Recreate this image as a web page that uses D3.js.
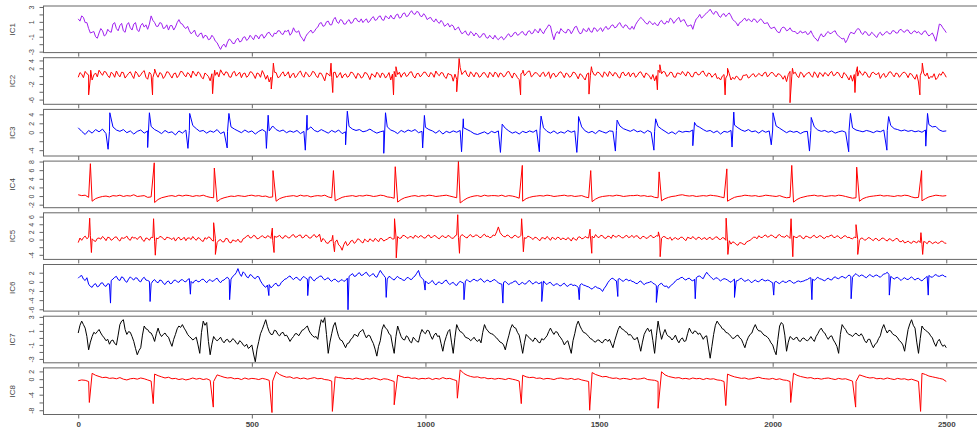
<!DOCTYPE html>
<html>
<head>
<meta charset="utf-8">
<script src="https://cdn.jsdelivr.net/npm/d3@7"></script>
<style>
body { margin: 0; background: #fff; }
text { font-family: "Liberation Sans", Arial, sans-serif; }
</style>
</head>
<body>
<svg id="chart" width="977" height="430"></svg>
<script>
// one value every 10 samples (0..2500)
var ic1 = [1.4,1.8,0.9,0.1,-0.4,-1.0,-0.5,-0.2,-0.7,-0.3,
0.7,0.1,0.5,-0.2,0.6,0.2,0.7,-0.1,0.5,0.3,
0.0,1.8,0.9,0.4,0.8,0.2,-0.1,0.5,0.3,1.3,
0.7,0.1,-0.2,-0.4,-0.8,-0.6,-1.2,-0.9,-1.3,-1.1,
-1.8,-2.7,-2.0,-1.7,-1.5,-1.9,-1.2,-1.6,-1.0,-1.3,
-1.1,-0.8,-1.3,-0.7,-0.9,-0.4,-1.0,-0.6,-0.2,-0.7,
-0.3,-0.8,0.2,-0.4,-0.9,-1.6,-0.6,-0.1,-0.3,0.3,
0.9,0.5,1.1,0.6,1.6,0.8,1.2,0.7,1.3,0.9,
1.5,1.0,0.9,1.4,1.1,1.7,1.3,1.8,1.2,1.6,
1.9,1.4,2.05,1.6,2.2,1.8,2.5,2.0,2.3,1.7,
1.8,1.5,1.2,1.4,0.8,0.9,0.6,0.3,0.45,0.1,
-0.2,-0.45,-0.7,-0.3,-0.9,-0.7,-1.0,-0.6,-1.2,-1.1,
-0.8,-1.4,-1.0,-1.2,-0.6,-0.9,-0.4,-0.7,-0.3,-0.8,
-0.2,-0.5,-0.2,0.1,-0.6,0.2,0.45,-1.4,-0.3,0.1,
-0.4,0.0,-0.6,0.3,-0.2,-0.5,-0.2,0.2,-0.4,0.1,
0.0,-0.3,0.4,0.1,0.6,0.3,0.9,0.2,0.5,0.0,
0.0,1.0,1.6,1.1,0.7,0.9,0.9,0.5,1.2,0.7,
0.9,1.3,1.1,1.6,1.2,0.8,0.5,0.0,1.4,2.0,
1.7,2.2,2.7,2.0,2.3,1.6,2.1,2.0,1.8,1.1,
0.45,1.0,1.5,1.4,1.0,1.3,1.1,1.2,0.8,0.45,
0.2,-0.1,-0.45,0.3,-0.2,0.2,-0.3,-0.6,-0.2,-0.4,
-0.7,-0.2,-1.1,-1.6,-0.6,-0.9,-0.3,-0.5,-0.2,-0.9,
-1.3,-1.8,-0.8,-0.5,-0.2,0.0,-0.7,-0.4,-0.8,-0.6,
-1.1,-0.4,-0.7,-0.3,-0.6,-0.2,-0.5,0.0,-0.4,-0.1,
-0.6,-0.2,-0.3,-0.7,-0.2,-0.9,-0.5,-1.6,0.7,0.2,
-0.45];

var ic2 = [-0.3,0.5,1.2,0.3,-1.0,0.8,1.5,0.2,1.0,-0.4,
0.6,1.3,-0.2,0.9,0.1,1.1,-0.6,0.7,0.3,1.4,
-0.8,0.4,1.2,-0.3,0.6,0.0,1.0,-0.5,0.8,0.2,
1.1,-0.2,0.5,1.3,0.0,0.7,-0.7,0.4,-1.2,-0.5,
1.0,1.6,0.2,0.9,-0.3,1.2,0.5,-0.4,0.8,0.1,
1.0,-0.6,0.6,1.4,-0.8,-1.5,0.3,0.9,-0.2,1.1,
0.4,-0.5,0.8,0.1,1.3,-0.3,0.6,0.2,1.0,-0.4,
0.7,-1.2,0.5,-0.3,1.0,0.2,-0.5,0.6,0.0,0.9,
-0.6,0.4,-0.2,0.8,-0.9,0.3,1.0,-0.4,0.5,0.1,
-1.0,1.2,0.4,-0.3,0.9,0.2,1.1,-0.5,0.7,0.3,
1.0,-0.2,0.6,1.3,0.1,0.8,-0.6,0.4,-1.3,-0.8,
2.2,1.0,0.3,1.1,-0.2,0.7,0.0,0.9,-0.4,0.5,
1.0,-0.3,0.6,0.1,1.2,-0.5,0.4,-0.9,0.9,0.6,
1.3,0.2,0.8,-0.2,1.0,0.4,-0.6,0.7,0.1,1.1,
-0.4,0.5,0.0,0.9,-0.7,0.3,-1.0,0.8,1.4,0.2,
0.9,-0.3,0.6,1.2,0.0,0.7,-0.5,1.0,0.3,-0.2,
0.8,0.1,1.1,-0.4,0.5,-0.8,-1.2,1.5,0.6,1.0,
0.2,0.9,-0.3,0.7,1.2,0.0,0.8,-0.2,1.0,0.4,
1.3,-0.1,0.6,0.2,-0.6,-1.0,0.4,0.3,-1.0,-0.8,
-0.3,-0.9,0.2,-0.5,0.4,-0.2,0.7,0.0,1.0,0.3,
0.9,-0.2,0.5,-0.8,-1.4,1.2,0.6,0.1,1.0,-0.3,
0.7,0.2,1.1,-0.4,0.6,0.9,0.0,1.2,0.3,0.8,
-0.5,0.5,-1.0,-1.3,0.9,1.4,0.2,0.8,-0.3,1.0,
0.4,-0.6,0.7,0.1,1.1,-0.2,0.6,0.3,1.0,-0.4,
0.5,-0.8,-1.5,1.3,0.0,-0.7,-0.3,-0.9,0.6,1.1,
-0.3];

var ic3 = [1.0,0.2,-0.5,0.4,-0.2,0.6,0.1,0.7,-0.3,0.2,
1.2,0.5,0.2,0.6,-0.1,0.3,-0.4,0.2,0.5,-0.2,
0.3,1.3,0.6,0.2,-0.3,0.4,-0.1,0.1,-0.6,0.3,
-0.2,0.5,0.4,1.5,0.8,0.2,0.4,-0.2,0.3,0.0,
0.6,-0.3,0.1,0.2,1.2,0.7,0.3,-0.1,0.5,0.0,
0.3,-0.4,0.2,0.6,0.1,0.3,1.4,0.6,0.2,0.5,
-0.1,0.3,0.0,0.4,-0.3,0.2,0.5,1.2,0.4,0.1,
0.6,0.2,-0.2,0.4,0.0,0.5,-0.3,0.1,1.3,0.7,
0.4,0.6,0.1,0.3,0.7,0.2,-0.2,0.1,0.3,1.2,
0.5,0.2,-0.3,0.4,0.0,0.5,0.2,0.6,-0.1,0.2,
1.1,0.6,0.3,-0.2,0.4,-0.4,0.2,-0.1,0.3,0.0,
0.4,1.0,0.6,0.2,-0.3,-0.5,-0.2,0.1,-0.4,0.2,
-0.1,0.3,0.5,0.9,0.3,-0.2,0.1,-0.4,0.2,-0.1,
0.3,0.0,0.5,0.4,1.0,0.2,-0.2,0.3,-0.3,0.1,
-0.2,0.4,0.0,0.3,0.5,1.2,0.3,-0.1,0.2,-0.3,
0.4,0.1,-0.2,0.3,0.2,0.4,1.4,0.8,0.5,0.2,
0.6,0.1,0.3,-0.2,0.4,0.0,0.2,1.3,0.7,0.2,
-0.3,0.1,-0.4,0.3,0.0,0.2,0.1,0.5,1.5,1.1,
0.6,0.2,0.4,-0.1,0.3,-0.4,0.2,0.0,0.4,1.6,
1.0,0.5,0.2,0.6,0.1,0.3,-0.2,0.4,0.0,0.3,
0.5,1.4,0.9,0.4,-0.1,0.3,0.0,0.2,-0.3,0.1,
0.2,0.4,1.2,0.5,0.2,0.4,0.0,0.3,-0.2,0.1,
0.3,0.0,0.4,1.0,0.5,0.3,0.1,0.4,0.2,-0.1,
0.3,0.1,0.5,0.4,1.5,0.8,0.6,0.3,0.5,0.2,
0.4,0.1,0.3,0.0,0.5,1.7,1.2,1.3,0.5,0.2,
0.3];

var ic4 = [0.3,0.1,0.2,-0.3,-1.2,-0.6,-0.3,-0.1,0.0,-0.2,
0.1,0.0,0.2,-0.1,0.1,0.0,0.3,-0.1,0.0,0.1,
-0.3,-0.2,-1.5,-0.8,-0.4,-0.2,0.0,0.1,-0.1,0.2,
0.0,0.2,0.1,-0.1,0.1,0.0,0.2,-0.1,-0.3,-0.4,
-1.3,-0.7,-0.4,-0.2,0.0,-0.1,0.1,0.0,-0.1,0.1,
0.2,0.0,0.1,-0.1,0.0,-0.3,-0.2,-1.2,-0.6,-0.3,
-0.1,0.0,0.1,-0.1,0.2,0.0,0.1,-0.2,0.0,0.1,
0.0,0.2,-0.2,-0.4,-1.1,-0.7,-0.3,-0.1,0.0,0.1,
-0.1,0.1,0.0,0.2,0.1,-0.1,0.0,0.2,0.1,-0.2,
-0.3,-0.5,-1.4,-0.8,-0.4,-0.2,0.0,0.1,-0.1,0.1,
0.0,0.2,0.1,-0.1,0.0,0.1,0.2,0.0,-0.2,-0.4,
-1.6,-1.0,-0.5,-0.2,0.0,0.1,-0.1,0.2,0.0,0.1,
0.1,0.0,0.2,-0.1,0.1,0.0,-0.2,-0.5,-1.2,-0.6,
-0.3,-0.1,0.0,0.1,0.0,0.2,0.1,-0.1,0.0,0.1,
0.2,0.0,0.1,-0.1,0.0,0.1,-0.2,-0.4,-1.3,-0.7,
-0.3,-0.1,0.0,0.1,0.0,0.2,0.1,-0.1,0.0,0.1,
0.1,0.2,0.0,0.1,-0.1,0.0,-0.3,-0.4,-1.1,-0.6,
-0.3,-0.1,0.0,0.2,0.3,0.1,0.0,0.1,-0.1,0.0,
0.1,0.0,0.2,0.1,0.0,-0.2,-0.4,-1.2,-0.7,-0.3,
-0.1,0.0,0.2,0.1,0.0,0.1,-0.1,0.0,0.2,0.1,
0.0,-0.1,0.1,-0.2,-0.4,-0.3,-1.4,-0.8,-0.4,-0.2,
0.0,0.1,0.2,0.0,0.1,-0.1,0.0,0.1,0.0,0.2,
0.1,-0.1,-0.3,-0.5,-0.4,-1.2,-0.6,-0.3,-0.1,0.0,
0.1,0.2,0.0,0.1,0.0,-0.1,0.1,0.0,0.2,0.1,
-0.2,-0.4,-0.3,-1.1,-0.6,-0.2,0.0,0.2,0.1,0.0,
0.1];

var ic5 = [-0.8,-0.2,0.9,0.6,0.2,-0.5,0.4,0.8,-0.3,0.5,
0.1,0.7,-0.4,0.3,0.9,-0.2,0.4,0.0,0.8,-0.5,
0.3,0.6,-0.6,0.2,0.7,-0.1,0.5,0.0,-0.4,0.6,
0.1,-0.3,0.4,0.8,-0.2,0.3,-0.5,0.1,0.5,-0.4,
-0.8,0.0,-0.6,0.2,-0.9,-0.3,0.1,-0.7,0.4,1.1,
0.5,0.9,0.3,1.0,0.4,0.8,-0.2,0.6,1.1,0.3,
0.9,0.5,1.3,0.7,1.2,0.6,1.0,0.4,1.3,0.8,
-0.6,-0.2,-1.0,-0.3,-0.7,-1.4,-2.8,-0.5,-1.2,-0.2,
-0.6,0.0,-0.9,-0.3,0.2,-0.5,-0.1,0.3,-0.4,0.1,
0.6,0.2,0.8,0.4,1.0,0.3,0.7,1.1,0.5,0.9,
0.4,1.2,0.6,0.9,0.2,1.0,0.5,0.8,0.3,1.2,
0.7,1.0,0.4,1.3,0.8,1.1,0.5,1.4,0.9,0.6,
1.0,3.3,1.2,0.7,1.0,0.4,1.1,0.6,0.9,0.3,
0.7,0.0,0.5,-0.3,0.4,0.8,-0.2,0.3,0.6,-0.1,
0.2,0.5,-0.4,0.1,0.6,0.2,0.8,0.4,0.9,1.3,
0.5,1.0,0.3,0.8,1.2,0.6,0.9,0.4,1.1,0.7,
0.5,1.0,0.2,0.8,0.4,1.1,0.6,0.9,0.3,0.7,
0.2,-0.2,0.5,0.1,0.6,-0.3,0.4,0.8,0.0,0.5,
0.3,-0.1,0.6,0.2,0.7,0.0,0.4,-0.6,-1.2,-0.8,
-1.5,-0.9,-1.3,-0.4,0.2,0.6,1.0,0.5,1.2,0.8,
1.0,0.4,1.3,0.7,1.1,0.3,0.9,0.5,1.0,0.2,
0.8,0.4,1.1,0.6,0.9,0.3,0.7,1.2,0.5,0.8,
0.4,1.0,0.6,0.2,0.5,-0.2,0.3,0.0,0.4,-0.3,
0.2,-0.1,0.3,-0.4,0.1,-0.2,0.2,-0.6,-0.9,-0.4,
-1.0,-0.6,-0.3,-1.3,-0.7,-0.4,-1.1,-0.6,-0.9,-0.5,
-1.0];

var ic6 = [0.8,1.4,0.3,-0.5,-1.2,-0.4,-0.9,-0.2,-1.0,-0.5,
0.6,1.2,0.3,0.9,-0.1,1.1,0.4,0.8,0.0,1.0,
0.3,-0.4,0.5,-0.2,0.3,-0.6,0.2,-0.3,0.4,-0.1,
0.5,0.0,0.7,-0.3,0.4,0.1,0.6,-0.2,0.5,0.2,
0.8,-0.2,0.4,1.0,0.6,1.5,2.9,1.2,1.8,0.9,
1.4,0.7,1.1,-0.4,-1.2,-0.6,-1.0,-0.3,-0.8,0.2,
0.7,1.3,0.5,1.0,0.3,1.2,0.6,1.1,0.2,0.9,
1.3,0.4,0.9,0.1,0.6,0.0,0.5,0.3,1.2,1.8,
1.3,2.0,1.5,2.1,1.2,1.8,1.0,2.5,1.4,0.6,
1.0,0.4,1.2,0.7,0.3,1.0,0.5,1.3,2.5,0.8,
0.2,-0.4,0.3,-0.7,0.0,-0.3,0.4,-0.6,-0.1,-0.8,
0.1,-0.3,0.5,0.0,0.6,0.2,0.7,-0.1,0.4,0.1,
0.5,-0.2,-0.5,0.1,-0.6,-0.2,0.2,-0.7,-0.1,-0.4,
0.3,-0.5,0.0,-0.3,0.2,-0.6,-0.1,-0.8,-0.4,-0.9,
-0.3,-1.0,-0.5,-0.7,-1.2,-0.4,-0.8,-1.1,-1.6,-1.0,
-1.4,-2.1,-0.9,0.3,0.8,0.2,0.7,0.1,0.6,0.4,
0.0,-0.4,0.2,-0.6,-0.2,0.1,-0.5,-0.9,-0.3,-1.0,
-1.4,-0.6,0.2,0.6,1.0,0.4,0.8,0.2,0.9,1.3,
0.7,2.1,1.2,0.5,0.9,0.2,0.7,0.4,-0.1,0.6,
0.3,0.8,0.1,0.5,-0.2,0.4,0.0,0.6,0.2,0.3,
-0.2,0.1,-0.4,0.2,-0.1,0.3,-0.3,0.1,0.0,0.2,
0.5,0.9,0.3,1.0,0.6,0.2,0.8,0.4,1.1,0.7,
1.2,0.8,1.5,1.0,1.8,1.2,1.4,0.9,1.6,1.1,
1.5,1.0,1.7,2.1,1.2,0.6,1.0,0.3,0.9,0.5,
1.1,0.4,0.8,0.2,0.9,1.4,1.0,1.6,1.2,1.5,
1.1];

var ic7 = [0.7,2.4,1.4,-1.7,0.2,0.6,1.2,0.3,-0.4,-0.9,
-0.3,-1.0,1.9,2.6,0.5,0.8,-0.5,-2.4,-1.4,1.7,
1.2,0.7,-0.5,1.4,0.2,0.7,0.1,-1.2,0.5,1.7,
1.9,1.0,0.2,-0.3,0.1,-2.2,2.4,2.2,-2.4,0.2,
-0.4,0.1,-0.7,-0.2,-0.5,-0.3,-0.9,-0.6,-1.2,-1.5,
-1.0,-3.4,-0.5,1.2,2.6,0.9,0.5,1.0,0.3,0.8,
0.4,-0.5,0.2,0.6,0.7,1.2,1.7,0.6,0.1,-0.2,
2.6,2.9,-2.2,0.6,2.2,0.2,-0.4,-1.4,-0.7,0.0,
0.4,0.8,1.2,0.0,0.3,-0.8,-2.6,-0.4,1.9,1.2,
0.4,-2.2,1.7,0.2,-0.3,0.1,-0.7,-0.2,-0.6,1.2,
0.6,1.0,-0.2,0.7,0.3,-1.9,0.2,1.2,-2.2,1.9,
0.9,0.5,0.0,-0.4,0.1,-0.5,-0.7,1.9,1.0,0.6,
0.2,-0.3,-0.7,-1.7,0.3,1.9,1.4,0.4,-2.2,0.5,
0.0,-0.5,-0.2,-0.7,-0.3,0.3,1.4,0.5,0.8,0.0,
-1.0,-0.4,-2.2,0.6,2.4,1.2,0.7,0.2,-0.2,-0.6,
-0.3,-0.7,-0.2,-0.2,-1.4,0.4,1.7,1.2,0.8,0.5,
-0.2,0.1,-1.9,0.5,1.4,1.2,-2.2,2.4,-0.2,1.2,
0.2,-0.3,0.4,-0.7,0.0,-0.4,1.4,0.6,0.9,0.7,
-0.2,0.3,-2.9,0.5,2.4,1.7,1.2,0.7,0.2,0.0,
0.4,-0.2,-1.4,0.1,0.7,1.9,1.0,0.7,0.3,-0.2,
-1.0,-2.4,1.7,1.9,-1.9,0.2,-0.3,0.1,-0.5,0.0,
-0.4,0.2,-0.5,0.6,1.4,0.7,-0.2,0.3,-0.7,-2.2,
1.9,1.2,0.5,0.2,0.7,0.3,0.2,-0.7,-0.2,-1.4,
-0.7,0.3,1.9,0.7,1.0,0.4,0.0,-0.6,-1.9,1.2,
2.6,1.4,-2.2,1.7,1.1,0.7,0.0,-1.2,-0.2,-1.2,
-1.4];

var ic8 = [-0.4,-0.2,-0.3,-0.6,1.5,1.0,0.7,0.4,0.5,0.2,
0.3,0.1,0.4,0.0,-0.2,0.1,0.2,0.0,0.3,0.1,
-0.2,-0.5,1.3,0.9,0.6,0.3,0.5,0.1,0.2,-0.1,
0.1,-0.2,0.0,0.3,0.0,0.2,-0.1,0.1,-0.3,-0.6,
1.1,0.8,0.5,0.3,0.4,0.1,0.2,-0.1,0.3,0.0,
0.2,0.1,-0.1,0.2,0.0,-0.3,-0.5,1.9,1.2,0.8,
0.5,0.6,0.2,0.4,0.1,0.3,0.0,0.2,0.4,0.1,
0.2,-0.1,-0.2,-0.5,0.6,0.4,0.3,0.1,0.2,0.0,
0.3,0.1,-0.1,0.2,0.0,0.3,0.1,-0.2,0.1,0.0,
-0.3,-0.6,1.0,0.7,0.4,0.5,0.2,0.3,0.0,0.2,
0.1,0.3,-0.1,0.2,0.0,0.4,0.1,0.2,-0.1,-0.4,
2.4,1.5,1.0,0.7,0.5,0.6,0.3,0.4,0.1,0.2,
0.0,0.2,0.1,-0.1,0.2,0.0,-0.2,-0.5,1.0,0.6,
0.4,0.5,0.2,0.3,0.0,0.2,0.1,-0.1,0.2,0.3,
0.1,0.0,0.2,-0.1,0.1,-0.2,-0.4,-0.6,1.7,1.2,
0.9,0.6,0.7,0.4,0.2,0.3,0.0,0.2,0.1,-0.1,
0.2,0.0,0.1,0.3,-0.1,-0.2,-0.3,-0.6,1.9,1.1,
0.7,0.5,0.3,0.4,0.1,0.2,0.0,0.3,0.1,0.2,
-0.1,0.2,0.0,0.1,-0.2,-0.3,-0.6,1.3,0.9,0.6,
0.4,0.2,0.3,0.0,0.1,0.3,0.5,0.2,0.1,0.0,
0.2,-0.1,0.1,-0.2,-0.3,-0.6,1.5,1.0,0.7,0.5,
0.3,0.4,0.1,0.2,0.0,0.2,0.3,0.1,-0.1,0.2,
0.0,0.1,-0.2,-0.5,-0.6,1.1,0.8,0.5,0.3,0.4,
0.1,0.2,0.0,0.3,0.1,-0.1,0.2,0.0,0.1,-0.2,
0.0,-0.3,-0.6,1.5,1.2,0.8,0.6,0.4,0.2,0.0,
-0.6];

// in-between values at samples 5, 15, ... 2495 for the noisier traces
var ic1Mid = [1.1,1.6,0.9,-0.5,-0.3,-1.2,0.1,-0.9,0.0,-0.4,
0.9,-0.2,0.8,-0.4,0.9,-0.1,0.9,-0.3,0.8,0.6,
0.7,1.2,0.4,0.9,0.1,0.6,0.5,-0.1,0.9,0.8,
0.3,0.4,-0.6,-0.1,-1.0,-0.5,-0.8,-1.4,-0.8,-1.6,
-2.3,-2.2,-2.4,-1.3,-1.9,-1.4,-1.7,-1.1,-1.5,-0.8,
-1.4,-0.9,-0.8,-1.2,-0.5,-0.8,-0.5,-0.2,-0.6,-0.2,
-0.1,-0.5,-0.3,-0.2,-1.2,-1.0,-0.4,-0.5,0.1,0.8,
0.4,1.0,0.6,1.3,1.0,1.3,0.7,1.1,0.8,1.4,
1.1,1.4,1.2,0.9,1.5,1.2,1.7,1.3,1.8,1.4,
1.5,1.9,1.5,2.1,1.7,2.2,2.1,2.4,1.8,2.1,
1.3,1.6,1.0,1.0,1.2,0.4,0.8,0.6,-0.1,0.3,
-0.6,-0.2,-0.8,-0.5,-0.5,-1.1,-0.6,-1.1,-0.8,-1.3,
-1.2,-1.1,-1.4,-0.8,-1.0,-0.5,-0.8,-0.4,-0.7,-0.3,
-0.6,0.0,-0.5,-0.3,-0.1,0.6,-0.6,-0.6,-0.6,-0.2,
-0.5,-0.1,-0.2,0.4,-0.6,0.1,-0.3,-0.3,0.2,-0.3,
0.2,0.1,0.0,0.5,0.2,0.7,0.4,0.6,0.1,0.4,
0.6,1.3,1.4,0.8,1.1,0.6,0.6,1.0,0.8,1.1,
1.5,0.8,1.4,1.0,1.3,0.4,0.6,0.8,1.6,1.5,
2.0,2.4,2.3,2.4,1.8,2.0,1.7,2.2,1.3,0.9,
0.9,1.3,1.1,1.2,1.4,0.9,1.4,0.8,0.9,0.1,
0.3,-0.4,0.1,0.2,-0.1,-0.2,-0.3,-0.5,-0.5,-0.3,
-0.6,-0.7,-1.3,-1.0,-1.0,-0.5,-0.6,-0.3,-0.7,-1.1,
-1.2,-1.4,-0.4,-0.6,0.1,-0.5,-0.3,-0.8,-0.4,-0.9,
-0.6,-0.8,-0.4,-0.6,-0.2,-0.5,-0.1,-0.3,-0.1,-0.5,
-0.3,-0.5,-0.6,-0.3,-0.6,-0.7,-1.0,-0.5,0.6,-0.1];

var ic2Mid = [0.9,-0.4,0.6,-0.5,0.3,-0.2,0.8,1.2,0.1,1.0,
-0.3,0.4,1.0,-0.5,0.7,0.2,1.2,-0.2,1.0,-0.3,
1.0,-0.4,0.5,0.9,-0.6,1.1,0.2,0.6,-0.4,1.2,
0.3,0.9,-0.4,0.6,1.1,-0.3,0.8,-0.1,0.6,0.2,
-0.2,0.8,1.1,-0.2,0.9,0.0,1.0,0.6,-0.3,1.1,
0.3,0.8,-0.3,0.5,0.2,-0.3,1.0,-0.4,0.6,0.0,
1.1,0.3,-0.4,0.9,0.2,1.0,-0.2,1.2,0.1,0.8,
-0.2,0.8,0.0,0.9,-0.4,0.9,0.3,-0.3,1.0,0.2,
0.7,-0.5,0.9,0.1,0.6,-0.3,0.5,0.8,-0.5,0.9,
0.5,-0.2,1.0,0.6,-0.1,1.0,0.0,0.6,-0.2,1.0,
0.2,0.9,-0.3,0.5,0.9,-0.2,0.7,0.3,0.5,1.5,
0.4,1.4,-0.2,0.5,0.9,-0.3,0.8,0.2,1.0,-0.2,
0.7,0.8,-0.2,1.0,0.3,0.8,-0.4,0.6,0.1,1.2,
-0.2,0.9,0.4,0.7,-0.1,1.1,0.5,-0.2,0.9,0.4,
0.8,-0.3,1.0,0.2,0.6,-0.4,0.5,0.2,0.4,1.0,
0.3,1.1,-0.1,0.6,0.9,-0.2,0.8,0.1,1.0,0.6,
-0.3,0.9,0.3,0.8,0.0,0.4,0.1,0.9,1.2,-0.1,
1.0,-0.2,0.8,0.4,0.6,1.1,-0.1,0.9,0.3,1.1,
0.4,0.8,-0.3,0.7,-0.4,0.0,-0.5,0.6,-0.3,0.0,
-1.0,0.2,0.4,-0.2,0.6,0.1,0.3,0.8,-0.2,0.9,
0.3,0.6,0.0,0.1,0.4,-0.2,1.0,-0.4,0.7,0.4,
1.0,-0.3,0.5,0.9,-0.1,0.6,0.8,0.1,1.0,-0.1,
0.9,-0.2,0.2,0.4,0.0,0.6,1.1,-0.2,0.8,0.5,
0.9,0.2,-0.3,1.0,0.4,0.8,-0.3,0.9,0.5,0.7,
-0.2,0.4,0.1,0.7,0.8,-0.1,0.6,-0.4,0.2,0.5];

var ic5Mid = [0.4,0.5,0.2,1.0,-0.3,0.3,0.1,0.4,0.6,-0.2,
0.6,0.0,0.5,0.5,0.1,0.7,0.5,0.6,-0.1,0.4,
-0.2,0.5,0.4,0.8,0.2,0.6,0.3,0.5,0.3,-0.1,
0.6,0.4,0.0,0.2,0.5,-0.3,0.5,0.7,-0.2,0.2,
-0.2,-0.6,0.3,-0.7,-0.1,-0.5,-0.6,0.2,0.9,0.4,
1.1,0.2,0.7,0.6,1.0,0.3,0.9,0.8,0.5,1.0,
0.4,1.1,0.6,1.1,0.4,1.2,0.4,1.0,0.6,1.4,
0.3,-0.9,-0.3,-1.1,-0.1,-1.8,-1.3,-1.6,-0.4,-1.0,
0.2,-0.6,0.1,-0.6,-0.2,0.3,-0.6,0.2,-0.1,0.5,
0.1,0.9,0.3,1.1,0.6,0.8,0.3,0.8,1.0,0.4,
1.0,0.5,1.1,0.4,0.8,0.6,1.1,0.4,0.9,0.6,
1.3,0.6,1.0,0.7,1.2,0.6,1.1,0.8,0.5,1.2,
2.0,1.8,0.8,1.2,0.5,1.0,0.6,1.1,0.5,0.9,
0.4,0.6,0.0,0.5,0.1,0.4,0.6,0.0,0.5,0.4,
-0.1,0.2,0.5,-0.2,0.7,0.3,0.5,0.9,0.4,0.7,
1.1,0.4,0.9,0.3,0.8,1.1,0.5,0.9,0.5,1.1,
0.9,0.4,0.8,0.3,0.9,0.5,1.0,0.4,0.8,0.3,
0.6,0.3,0.1,0.6,0.1,0.6,0.2,0.3,0.6,0.0,
0.5,0.4,0.0,0.6,0.1,0.5,-0.2,-0.3,-0.6,-1.3,
-0.8,-1.2,-0.6,-0.2,0.6,0.2,0.6,1.0,0.6,1.2,
0.6,1.1,0.8,0.6,0.8,0.9,0.6,0.9,0.4,0.9,
0.5,0.9,0.5,1.0,0.4,0.8,1.0,0.6,1.0,0.3,
0.9,0.5,0.3,0.6,0.0,0.4,-0.2,0.5,0.0,0.3,
-0.3,0.4,-0.1,0.2,-0.4,0.3,-0.5,-0.2,-0.7,-0.8,
-0.4,-0.9,-0.8,-0.5,-1.1,-0.6,-0.8,-1.0,-0.4,-0.9];

var ic6Mid = [1.2,0.6,0.9,-1.0,-0.6,-1.1,-0.3,-0.8,-0.4,0.3,
1.0,0.5,1.1,0.2,0.6,0.7,0.9,0.2,0.7,0.4,
0.1,0.2,0.0,0.4,-0.3,0.0,-0.4,0.3,0.0,0.4,
0.1,0.5,0.1,0.2,0.0,0.5,0.2,0.3,0.1,0.6,
0.2,0.3,0.8,0.5,1.2,2.0,1.8,2.2,1.1,1.6,
0.9,1.2,0.2,-0.9,-0.7,-1.3,-0.5,-0.9,-0.1,0.6,
1.1,0.8,0.9,0.5,0.9,0.8,1.0,0.5,0.7,1.2,
0.8,0.7,0.4,0.5,0.2,0.3,0.1,0.8,1.5,1.2,
1.8,1.4,1.9,1.5,1.6,1.2,1.8,1.9,0.9,1.2,
0.6,0.9,0.8,0.4,0.8,0.6,1.0,1.9,1.2,0.4,
-0.2,0.0,-0.3,-0.2,-0.4,0.2,-0.2,-0.3,-0.6,-0.2,
-0.1,0.2,0.1,0.4,0.3,0.5,0.2,0.3,0.0,0.4,
0.1,-0.4,-0.1,-0.3,-0.3,0.1,-0.3,-0.3,-0.5,0.1,
-0.2,-0.1,-0.4,0.0,-0.3,-0.2,-0.6,-0.5,-0.8,-0.5,
-0.8,-0.6,-0.8,-0.9,-0.7,-0.7,-1.0,-1.4,-1.2,-1.3,
-1.6,-1.4,-0.2,0.7,0.4,0.6,0.3,0.5,0.2,0.1,
-0.3,0.0,-0.3,-0.3,-0.1,-0.3,-0.8,-0.5,-0.8,-0.9,
-0.9,-0.3,0.5,0.9,0.6,0.7,0.4,0.6,1.2,0.9,
1.5,1.6,0.8,0.8,0.5,0.5,0.6,0.1,0.3,0.2,
0.6,0.4,0.3,0.1,0.2,0.1,0.4,0.3,0.4,0.0,
-0.1,-0.2,0.0,-0.1,0.2,0.0,-0.2,0.2,0.1,0.4,
0.8,0.6,0.7,0.7,0.4,0.6,0.5,0.9,0.8,1.0,
1.0,1.2,1.2,1.5,1.4,1.5,1.1,1.3,1.3,1.4,
1.2,1.4,1.8,1.6,0.9,0.9,0.6,0.7,0.6,0.8,
0.7,0.7,0.4,0.6,1.2,1.1,1.4,1.3,1.4,1.2];

var ic7Mid = [1.8,1.9,0.2,-0.6,0.8,0.9,0.7,0.0,-0.2,-0.4,
-0.8,0.4,2.4,1.2,0.9,0.2,-1.5,-1.8,0.4,1.3,
0.8,0.2,0.6,0.6,0.5,0.3,-0.6,-0.2,1.3,1.5,
1.4,0.5,0.0,-0.1,-1.0,0.8,1.8,-0.5,-0.9,-0.2,
-0.2,-0.4,-0.3,-0.6,-0.1,-0.7,-0.4,-1.0,-0.9,-1.3,
-2.3,-1.6,0.6,1.9,1.6,0.5,1.1,0.5,0.7,0.3,
0.0,-0.1,0.6,0.3,1.1,1.5,1.0,0.3,0.2,1.4,
2.2,0.5,-0.6,1.7,1.1,-0.3,-0.9,-0.8,-0.2,0.5,
0.2,1.0,0.5,0.4,-0.3,-1.6,-1.2,1.2,1.4,0.6,
-1.0,0.2,0.9,-0.2,0.3,-0.5,0.1,-0.5,0.5,0.8,
1.1,0.3,0.4,0.2,-0.8,-0.6,0.9,-0.6,0.1,1.3,
0.8,0.1,-0.1,-0.2,-0.3,-0.2,0.8,1.3,0.7,0.5,
0.0,-0.6,-1.0,-0.6,1.3,1.5,0.8,-0.8,-0.7,0.2,
-0.3,0.0,-0.6,-0.1,0.0,0.9,0.9,0.9,0.3,-0.4,
-0.6,-1.3,-0.4,1.8,1.7,0.8,0.5,-0.1,-0.5,-0.3,
-0.6,-0.3,-0.5,-0.8,-0.4,1.2,1.3,0.9,0.4,0.2,
-0.2,-0.8,-0.6,1.0,0.9,-0.4,0.3,1.0,0.6,0.5,
0.1,0.0,-0.3,-0.2,-0.5,0.6,0.9,1.0,0.5,0.3,
0.2,-1.3,-1.2,1.8,2.0,1.3,0.8,0.5,-0.1,0.3,
0.0,-0.8,-0.5,0.5,1.4,1.3,1.0,0.4,0.1,-0.7,
-1.8,-0.2,2.2,0.4,-0.6,0.0,0.0,-0.4,-0.1,-0.3,
-0.2,-0.2,0.2,1.1,0.9,0.2,0.2,-0.3,-1.2,0.5,
1.5,0.7,0.4,0.5,0.4,0.6,-0.4,-0.2,-0.9,-0.9,
-0.1,1.3,1.2,1.1,0.6,0.3,-0.4,-1.0,-0.3,2.0,
1.8,-0.6,-0.1,1.3,0.9,0.3,-0.7,-0.5,-0.8,-1.0];

// sharp beat deflections: [sample, value]
var ic2Peaks = [[30,-4.8],[36,1.5],[214,-4.8],[220,1.8],[387,-4.5],[393,1.5],[556,-3.3],[562,3.3],
[728,3.3],[733,-4.2],[908,-4.8],[915,2.4],[1090,-4.0],[1097,4.5],[1274,-4.8],[1281,1.5],
[1471,-4.6],[1478,2.4],[1668,-3.5],[1675,2.9],[1863,-4.8],[1870,2.0],[2050,-6.8],[2057,2.0],
[2237,-4.2],[2244,2.4],[2424,-4.8],[2431,3.3]];
var ic3Peaks = [[86,-3.8],[91,4.35],[200,-3.4],[205,4.35],[316,-3.6],[321,4.2],[429,-3.5],[434,4.2],
[542,-3.6],[547,3.8],[654,-4.0],[659,3.8],[770,-2.8],[775,4.7],[880,-4.7],[885,4.35],
[992,-3.5],[997,3.75],[1104,-4.35],[1109,3.0],[1216,-4.5],[1221,1.8],[1328,-4.35],[1333,3.6],
[1436,-4.5],[1441,3.5],[1547,-4.2],[1552,2.7],[1658,-4.0],[1663,3.0],[1770,-3.0],[1775,2.2],
[1883,-3.3],[1888,4.5],[1996,-2.8],[2001,4.35],[2106,-4.2],[2111,3.3],[2219,-4.35],[2224,4.2],
[2329,-4.0],[2334,3.5],[2441,-3.1],[2446,4.2]];
var ic4Peaks = [[35,7.5],[219,7.7],[392,6.5],[561,5.9],[735,5.9],[913,6.8],[1095,8.1],[1279,7.1],
[1476,5.9],[1673,5.6],[1868,6.3],[2055,7.1],[2242,6.7],[2429,5.9]];
var ic5Peaks = [[33,5.6],[38,-3.4],[217,5.45],[222,-4.1],[390,4.4],[395,-3.9],[559,3.0],[564,-3.4],
[733,1.1],[738,-3.2],[911,5.45],[916,-4.8],[1093,6.5],[1098,-3.6],[1277,5.45],[1282,-3.2],
[1474,2.7],[1479,-3.6],[1671,2.0],[1676,-4.5],[1866,5.6],[1871,-3.9],[2053,5.45],[2058,-4.5],
[2240,3.9],[2245,-3.9],[2427,1.8],[2432,-3.9]];
var ic6Peaks = [[93,-4.65],[207,-4.3],[323,-2.7],[436,-3.9],[549,-3.0],[661,-3.0],[777,-6.1],[887,-3.4],
[999,-1.8],[1111,-3.9],[1223,-4.65],[1335,-4.3],[1443,-3.9],[1554,-3.2],[1665,-4.5],[1777,-3.7],
[1890,-3.4],[2003,-2.9],[2113,-3.9],[2226,-3.7],[2336,-2.9],[2448,-2.9]];
var ic8Peaks = [[32,-6.0],[216,-6.3],[389,-7.2],[558,-8.6],[732,-8.3],[910,-6.6],[1092,-4.9],[1276,-6.3],
[1473,-8.0],[1670,-7.5],[1865,-6.8],[2052,-6.0],[2239,-7.2],[2426,-8.3]];

var names = ["IC1","IC2","IC3","IC4","IC5","IC6","IC7","IC8"];
var colors = ["#A020F0","#FF0000","#0000FF","#FF0000","#FF0000","#0000FF","#000000","#FF0000"];
var yDomains = [[-3.13,3.13],[-7.2,4.7],[-5.3,5.1],[-2.7,8.1],[-5.2,7.0],[-6.4,3.8],[-3.55,3.1],[-9.1,2.9]];
var yTicks = [[-3,-2,-1,0,1,2,3],[-6,-4,-2,0,2,4],[-4,-2,0,2,4],[-2,0,2,4,6,8],
[-4,-2,0,2,4,6],[-6,-4,-2,0,2],[-3,-2,-1,0,1,2,3],[-8,-6,-4,-2,0,2]];
var yLabels = [[-3,-1,1,3],[-6,-2,2,4],[-4,0,2,4],[-2,0,2,4,6,8],
[-4,0,2,4,6],[-6,-4,-2,0,2],[-3,-1,1,3],[-8,-4,0,2]];
var xTicks = [0,500,1000,1500,2000,2500];

var series = [ic1, ic2, ic3, ic4, ic5, ic6, ic7, ic8];
var mids = [ic1Mid, ic2Mid, [], [], ic5Mid, ic6Mid, ic7Mid, []];
var peaks = [[], ic2Peaks, ic3Peaks, ic4Peaks, ic5Peaks, ic6Peaks, [], ic8Peaks];

var svg = d3.select("#chart");
var x = d3.scaleLinear().domain([-100, 2600]).range([43.5, 981]);

series.forEach(function(vals, i){
	var top = 6 + i*51.7, bottom = top + 46.6;
	var y = d3.scaleLinear().domain(yDomains[i]).range([bottom, top]);
	var g = svg.append("g");

	var pts = vals.map(function(v, k){ return [k*10, v]; })
		.concat(mids[i].map(function(v, k){ return [k*10 + 5, v]; }))
		.concat(peaks[i])
		.sort(function(a, b){ return a[0] - b[0]; });

	g.append("path").datum(pts)
		.attr("fill", "none").attr("stroke", colors[i]).attr("stroke-width", 1)
		.attr("stroke-linejoin", "round")
		.attr("d", d3.line().x(function(d){ return x(d[0]); }).y(function(d){ return y(d[1]); }));

	g.append("rect").attr("x", 43.5).attr("y", top).attr("width", 940).attr("height", bottom - top)
		.attr("fill", "none").attr("stroke", "#666");

	var ya = g.append("g").attr("transform", "translate(43.5,0)")
		.call(d3.axisLeft(y).tickValues(yTicks[i]).tickSize(4)
			.tickFormat(function(d){ return yLabels[i].indexOf(d) >= 0 ? String(d) : ""; }));
	ya.select(".domain").remove();
	ya.selectAll("line").attr("stroke", "#666");
	ya.selectAll("text").attr("x", 0).attr("y", -10).attr("dy", null)
		.attr("transform", "rotate(-90)").attr("text-anchor", "middle")
		.attr("font-size", 7).attr("fill", "#444");

	var xa = g.append("g").attr("transform", "translate(0," + bottom + ")")
		.call(d3.axisBottom(x).tickValues(xTicks).tickSize(4)
			.tickFormat(function(d){ return i == 7 ? String(d) : ""; }));
	xa.select(".domain").remove();
	xa.selectAll("line").attr("stroke", "#666");
	xa.selectAll("text").attr("font-size", 8).attr("font-weight", "bold").attr("fill", "#444");

	g.append("text").attr("transform", "translate(15," + ((top + bottom)/2) + ") rotate(-90)")
		.attr("text-anchor", "middle").attr("font-size", 8).attr("fill", "#444")
		.text(names[i]);
});
</script>
</body>
</html>
